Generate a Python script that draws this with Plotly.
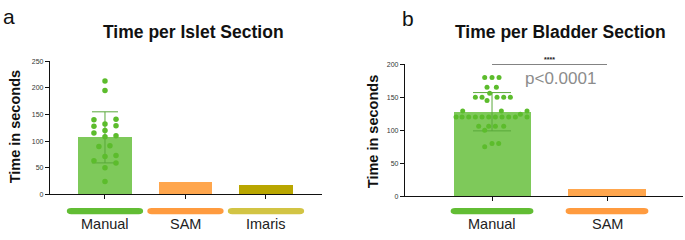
import plotly.graph_objects as go

# ---------------- data ----------------
cats_a = ["Manual", "SAM", "Imaris"]
means_a = [107, 22, 16]
sd_a = [48, 0, 0]
manual_pts_a = [213, 195, 140, 128, 115, 132, 120, 108, 141, 129, 110, 90, 91, 63, 71, 73, 59, 50, 24]
manual_jit_a = [0, 0, -1, -1, -1, 0, 0, 0, 1, 1, 1, -0.55, 0.45, -1, 0, 1, 1, 0, 0]

cats_b = ["Manual", "SAM"]
means_b = [128, 11]
sd_b = [29, 0]
manual_pts_b = [180, 180, 180, 165, 165, 156, 150, 150, 150, 150, 150, 145,
                129, 129, 129, 124, 120, 120, 120, 120, 120, 120, 120, 120, 120, 120, 120,
                106, 106, 106, 106, 100, 80, 80, 75]
manual_jit_b = [-22, 0, 21, -15, 13, -7, -50, -30, 15, 35, 55, -15,
                -88, 28, 105, 85, -108, -90, -70, -50, -30, -10, 10, 30, 50, 70, 105,
                -40, -10, 10, 35, -22, 0, 20, -22]

p_text = "p<0.0001"
stars = "****"

bar_colors = ["#7ec95a", "#ffa64d", "#b9a600"]
pill_colors = ["#62bd34", "#ff9b3f", "#d2c444"]
pt_color = "#5cbc2c"
err_color = "#5aa83a"

FONT = "Liberation Sans, Arial, sans-serif"
W, H = 685, 240

# axis geometry (pixels)
XA = dict(dom=(50, 322), rng=(-0.683, 2.696))
XB = dict(dom=(405, 683), rng=(-0.757, 1.661))


def x_to_paper(ax, v):
    (p0, p1), (r0, r1) = ax["dom"], ax["rng"]
    return (p0 + (v - r0) / (r1 - r0) * (p1 - p0)) / W


fig = go.Figure()

# panel a bars
fig.add_trace(go.Bar(x=list(range(len(cats_a))), y=means_a, width=0.66,
                     marker=dict(color=bar_colors[:3], line=dict(width=0)),
                     xaxis="x", yaxis="y", showlegend=False))
fig.add_trace(go.Scatter(x=[0], y=[means_a[0]], mode="markers", marker=dict(size=0.1, opacity=0),
                         error_y=dict(type="data", array=[sd_a[0]], visible=True, color=err_color,
                                      thickness=1, width=13),
                         xaxis="x", yaxis="y", showlegend=False, hoverinfo="skip"))
fig.add_trace(go.Scatter(x=[0 + j * 0.137 for j in manual_jit_a], y=manual_pts_a, mode="markers",
                         marker=dict(color=pt_color, size=5.5), xaxis="x", yaxis="y",
                         showlegend=False))

# panel b bars
fig.add_trace(go.Bar(x=list(range(len(cats_b))), y=means_b, width=0.67,
                     marker=dict(color=bar_colors[:2], line=dict(width=0)),
                     xaxis="x2", yaxis="y2", showlegend=False))
fig.add_trace(go.Scatter(x=[0], y=[means_b[0]], mode="markers", marker=dict(size=0.1, opacity=0),
                         error_y=dict(type="data", array=[sd_b[0]], visible=True, color=err_color,
                                      thickness=1, width=19),
                         xaxis="x2", yaxis="y2", showlegend=False, hoverinfo="skip"))
fig.add_trace(go.Scatter(x=[j / 3 / 115 for j in manual_jit_b], y=manual_pts_b, mode="markers",
                         marker=dict(color=pt_color, size=5), xaxis="x2", yaxis="y2",
                         showlegend=False))

# significance line
fig.add_trace(go.Scatter(x=[0, 1], y=[200, 200], mode="lines",
                         line=dict(color="#222", width=1.2), xaxis="x2", yaxis="y2",
                         showlegend=False, cliponaxis=False))

axis_common = dict(showline=True, linecolor="#111", linewidth=1.3, ticks="outside",
                   ticklen=4, tickwidth=1.2, tickcolor="#111", showgrid=False, zeroline=False,
                   tickfont=dict(family=FONT, size=7, color="#333"))

fig.update_layout(
    width=W, height=H, margin=dict(l=0, r=0, t=0, b=0),
    plot_bgcolor="white", paper_bgcolor="white", bargap=0,
    xaxis=dict(domain=[XA["dom"][0] / W, XA["dom"][1] / W], range=list(XA["rng"]), tickvals=[0, 1, 2],
               ticktext=["", "", ""], anchor="y", **axis_common),
    yaxis=dict(domain=[1 - 196 / H, 1 - 59 / H], range=[0, 250], tickvals=[0, 50, 100, 150, 200, 250],
               anchor="x", **axis_common),
    xaxis2=dict(domain=[XB["dom"][0] / W, XB["dom"][1] / W], range=list(XB["rng"]), tickvals=[0, 1],
                ticktext=["", ""], anchor="y2", **axis_common),
    yaxis2=dict(domain=[1 - 198 / H, 1 - 62 / H], range=[0, 200], tickvals=[0, 50, 100, 150, 200],
                anchor="x2", **axis_common),
)

ann = []
shapes = []


def pills(cats, ax, half):
    for i, c in enumerate(cats):
        col = pill_colors[i]
        xl, xr = x_to_paper(ax, i - half), x_to_paper(ax, i + half)
        ytop, ybot = 1 - 210 / H, 1 - 216.5 / H
        ym = (ytop + ybot) / 2
        rx = 3.25 / W
        path = (f"M {xl + rx},{ytop} L {xr - rx},{ytop} "
                f"Q {xr + rx * 0.35},{ytop} {xr + rx * 0.35},{ym} "
                f"Q {xr + rx * 0.35},{ybot} {xr - rx},{ybot} "
                f"L {xl + rx},{ybot} "
                f"Q {xl - rx * 0.35},{ybot} {xl - rx * 0.35},{ym} "
                f"Q {xl - rx * 0.35},{ytop} {xl + rx},{ytop} Z")
        shapes.append(dict(type="path", xref="paper", yref="paper", path=path,
                           fillcolor=col, line=dict(width=0), layer="above"))
        ann.append(dict(text=c, xref="paper", yref="paper", x=x_to_paper(ax, i), y=1 - 227 / H,
                        showarrow=False, xanchor="center", yanchor="middle",
                        font=dict(family=FONT, size=14.5, color="#222")))


pills(cats_a, XA, 0.46)
pills(cats_b, XB, 0.35)


def txt(text, x, y, size, color="#111", **kw):
    ann.append(dict(text=text, xref="paper", yref="paper", x=x / W, y=1 - y / H, showarrow=False,
                    xanchor="center", yanchor="middle", font=dict(family=FONT, size=size, color=color), **kw))


txt("<b>Time per Islet Section</b>", 193, 29, 17.5)
txt("<b>Time per Bladder Section</b>", 560, 29, 17.5)
txt("a", 9, 13, 21)
txt("b", 408, 15, 21)
txt("<b>Time in seconds</b>", 15, 127, 14.5, textangle=-90)
txt("<b>Time in seconds</b>", 373, 132, 14.5, textangle=-90)

# significance
ann.append(dict(text="<b>" + stars + "</b>", xref="x2", yref="y2", x=0.5, y=200, yshift=5,
                showarrow=False, xanchor="center", font=dict(family=FONT, size=7, color="#222")))
ann.append(dict(text=p_text, xref="paper", yref="paper", x=560 / W, y=1 - 77 / H, showarrow=False,
                xanchor="center", yanchor="middle", font=dict(family=FONT, size=17, color="#8c8c8c")))

fig.update_layout(annotations=ann, shapes=shapes)
fig.write_html("out.html", config={"displayModeBar": False},
               post_script="document.body.style.margin='0px';")
